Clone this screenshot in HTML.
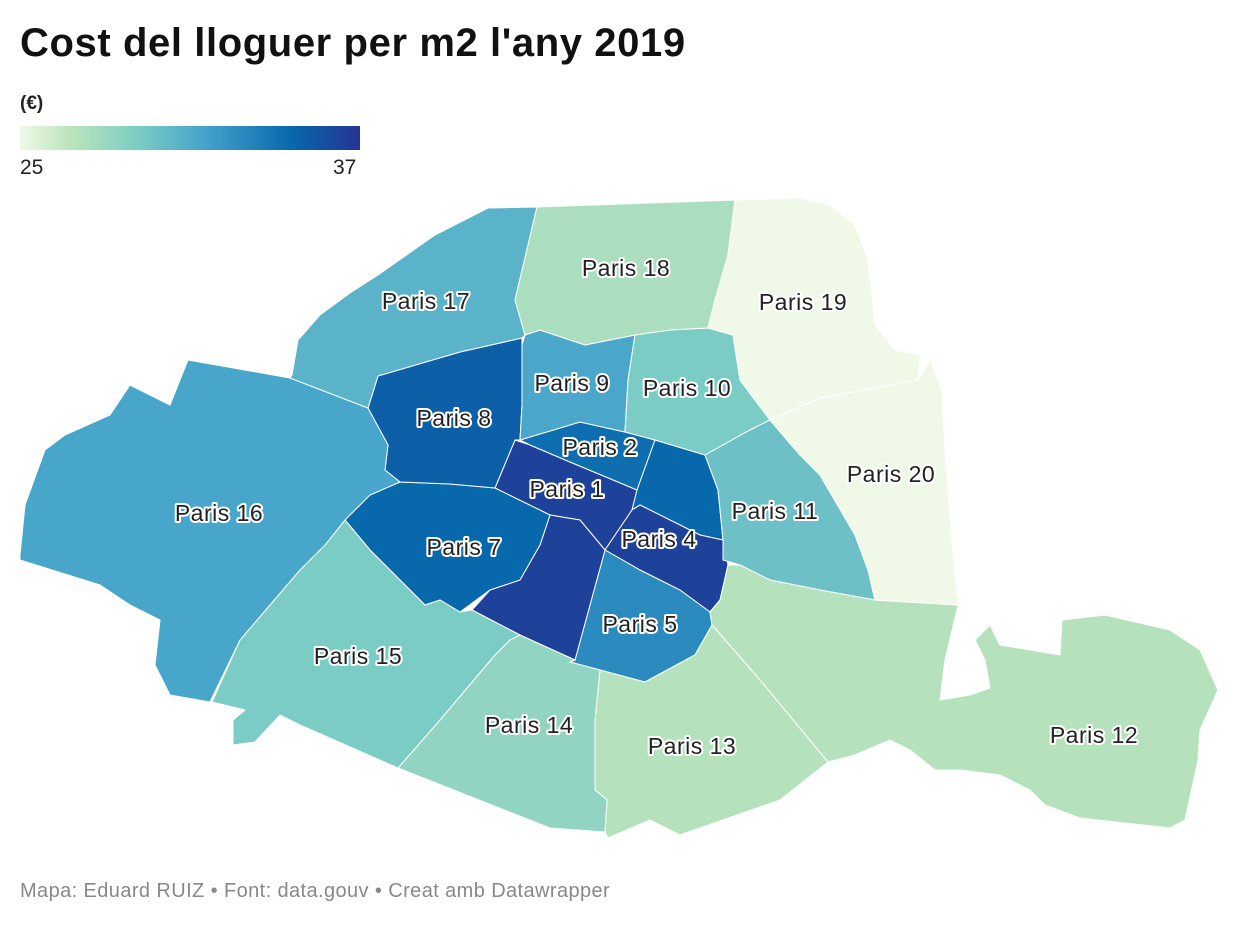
<!DOCTYPE html>
<html><head><meta charset="utf-8">
<style>
body{margin:0;background:#fff;font-family:"Liberation Sans",sans-serif;}
#wrap{position:relative;width:1240px;height:926px;overflow:hidden;}
.lbl{font-family:"Liberation Sans",sans-serif;font-size:23px;letter-spacing:0.5px;fill:#222;stroke:#fff;stroke-width:4px;paint-order:stroke;stroke-linejoin:round;text-anchor:middle;}
</style></head>
<body>
<div id="wrap">
<div style="position:absolute;left:20px;top:21px;font-size:40px;letter-spacing:0.6px;font-weight:bold;color:#111;">Cost del lloguer per m2 l'any 2019</div>
<div style="position:absolute;left:20px;top:93px;font-size:19px;font-weight:bold;color:#222;">(€)</div>
<div style="position:absolute;left:20px;top:126px;width:340px;height:24px;background:linear-gradient(to right,#f0f9e8,#bae4bc 15%,#7bccc4 35%,#43a2ca 55%,#0868ac 80%,#253494);"></div>
<div style="position:absolute;left:20px;top:156px;font-size:21px;color:#222;">25</div>
<div style="position:absolute;left:333px;top:156px;font-size:21px;color:#222;">37</div>
<svg id="map" width="1240" height="926" style="position:absolute;left:0;top:0;"></svg>
<div style="position:absolute;left:20px;top:880px;font-size:20px;letter-spacing:0.4px;color:#888;">Mapa: Eduard RUIZ • Font: data.gouv • Creat amb Datawrapper</div>
</div>
<script>
const districts=[1,2,3,4,5,6,7,8,9,10,11,12,13,14,15,16,17,18,19,20];
const rents=[36.4,34.3,34.6,36.4,32.8,36.4,34.6,35,31.3,29.2,29.8,27,27,28.4,29.2,31.4,30.6,27.4,25,25];
const domainMin=25, domainMax=37;
const stops=["#f0f9e8","#bae4bc","#7bccc4","#43a2ca","#0868ac","#253494"];
const stopPos=[0,0.15,0.35,0.55,0.8,1];
function hex(h){return [1,3,5].map(i=>parseInt(h.substr(i,2),16));}
function color(v){
  let t=Math.max(0,Math.min(1,(v-domainMin)/(domainMax-domainMin)));
  for(let i=0;i<stops.length-1;i++){
    if(t<=stopPos[i+1]){
      const f=(t-stopPos[i])/(stopPos[i+1]-stopPos[i]);
      const a=hex(stops[i]),b=hex(stops[i+1]);
      return "rgb("+a.map((c,k)=>Math.round(c+(b[k]-c)*f)).join(",")+")";
    }
  }
  return stops[stops.length-1];
}
const shapes={
1:"515,440 530,445 570,462 637,490 632,510 605,550 580,520 550,515 495,488",
2:"520,440 580,422 625,432 655,440 637,490 570,462 530,445",
3:"655,440 705,455 718,490 723,540 700,535 640,505 632,510 637,490",
4:"632,510 640,505 700,535 723,540 728,565 720,600 710,612 680,590 640,570 605,550",
5:"605,550 640,570 680,590 710,612 712,625 695,655 645,682 600,670 570,662 575,660",
6:"550,515 580,520 605,550 575,660 520,635 472,610 490,590 520,580 540,545",
7:"345,520 370,495 400,482 450,484 495,488 550,515 540,545 520,580 490,590 460,612 440,600 425,605 400,580 370,550",
8:"378,376 460,352 522,338 522,405 520,440 515,440 495,488 450,484 400,482 385,470 388,445 368,408",
9:"525,335 540,330 585,345 635,335 628,380 625,432 580,422 520,440 522,405 522,345",
10:"635,335 670,330 708,328 733,335 740,380 770,420 750,430 705,455 655,440 625,432 628,380",
11:"705,455 750,430 770,420 800,455 820,475 855,535 868,570 875,600 820,590 770,580 740,565 723,560 723,540 718,490",
12:"710,612 720,600 728,565 740,565 770,580 820,590 875,600 958,605 945,660 940,700 970,695 990,688 985,660 975,640 990,625 1000,645 1060,655 1062,620 1105,615 1170,630 1200,650 1218,690 1200,730 1198,760 1185,820 1170,828 1080,818 1045,805 1030,790 1000,775 960,770 935,770 910,750 890,740 855,755 828,762 760,680 712,625",
13:"600,670 645,682 695,655 712,625 760,680 828,762 780,800 680,835 650,820 608,838 605,832 607,800 595,790 595,720",
14:"520,635 575,660 570,662 600,670 595,720 595,790 607,800 605,832 550,828 398,768 440,720 495,655 510,640",
15:"345,520 370,550 400,580 425,605 440,600 460,612 472,610 520,635 510,640 495,655 440,720 398,768 300,725 280,715 255,742 233,745 233,720 245,710 212,702 240,640 270,605 300,570 325,545",
16:"20,555 25,505 45,450 65,435 110,415 130,385 170,405 188,360 290,378 368,408 388,445 385,470 400,482 370,495 345,520 325,545 300,570 270,605 240,640 210,702 170,695 155,665 160,620 130,605 100,585 20,560",
17:"292,375 298,340 320,315 350,293 378,275 435,235 488,208 537,207 515,300 525,335 522,338 460,352 378,376 368,408 290,378",
18:"537,207 735,200 728,255 715,300 708,328 670,330 635,335 585,345 540,330 525,335 515,300",
19:"735,200 800,198 830,205 855,225 868,260 875,325 895,350 920,355 918,380 870,390 820,398 770,420 740,380 733,335 708,328 715,300 728,255",
20:"918,380 930,360 942,390 945,450 950,520 958,605 875,600 868,570 855,535 820,475 800,455 770,420 820,398"
};
const labelPos={1:[567,489],2:[600,447],4:[659,539],5:[640,624],7:[464,547],8:[454,418],9:[572,383],10:[687,388],11:[775,511],12:[1094,735],13:[692,746],14:[529,725],15:[358,656],16:[219,513],17:[426,301],18:[626,268],19:[803,302],20:[891,474]};
const svg=document.getElementById('map');
const NS="http://www.w3.org/2000/svg";
districts.forEach((d,i)=>{
  const p=document.createElementNS(NS,'polygon');
  p.setAttribute('points',shapes[d]);
  p.setAttribute('fill',color(rents[i]));
  p.setAttribute('stroke','#fff');
  p.setAttribute('stroke-width','1');
  
  
  svg.appendChild(p);
});
districts.forEach(d=>{
  if(!labelPos[d])return;
  const t=document.createElementNS(NS,'text');
  t.setAttribute('x',labelPos[d][0]);
  t.setAttribute('y',labelPos[d][1]+8);
  t.setAttribute('class','lbl');
  t.textContent='Paris '+d;
  
  
  svg.appendChild(t);
});
</script>
</body></html>
